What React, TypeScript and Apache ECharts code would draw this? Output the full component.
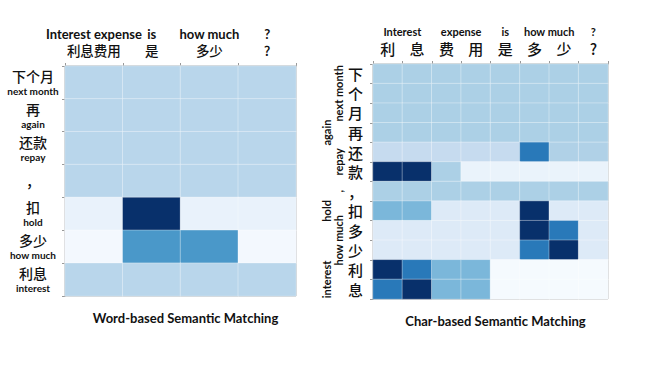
import React, { useEffect, useRef } from "react";
import * as echarts from "echarts";

// ---- Word-based chart data ----
const wordCols = ["利息费用", "是", "多少", "?"];
const wordColsEn = ["Interest expense", "is", "how much", "?"];
const wordRows = ["下个月", "再", "还款", "，", "扣", "多少", "利息"];
const wordRowsEn = ["next month", "again", "repay", "", "hold", "how much", "interest"];
const wordValues = [
  [0.29, 0.29, 0.29, 0.29],
  [0.29, 0.29, 0.29, 0.29],
  [0.29, 0.29, 0.29, 0.29],
  [0.29, 0.29, 0.29, 0.29],
  [0.07, 1.0, 0.07, 0.07],
  [0.02, 0.6, 0.6, 0.02],
  [0.29, 0.29, 0.29, 0.29],
];

// ---- Char-based chart data ----
const charCols = ["利", "息", "费", "用", "是", "多", "少", "?"];
const charColWords = ["Interest", "expense", "is", "how much", "?"];
const charColWordSpans = [[0, 2], [2, 4], [4, 5], [5, 7], [7, 8]];
const charRows = ["下", "个", "月", "再", "还", "款", "，", "扣", "多", "少", "利", "息"];
const charRowWordsInner = ["next month", "repay", ",", "how much"];
const charRowSpansInner = [[0, 3], [4, 6], [6, 7], [8, 10]];
const charRowWordsOuter = ["again", "hold", "interest"];
const charRowSpansOuter = [[3, 4], [7, 8], [10, 12]];
const charValues = [
  [0.33, 0.33, 0.33, 0.33, 0.33, 0.33, 0.33, 0.33],
  [0.33, 0.33, 0.33, 0.33, 0.33, 0.33, 0.33, 0.33],
  [0.33, 0.33, 0.33, 0.33, 0.33, 0.33, 0.33, 0.33],
  [0.33, 0.33, 0.33, 0.33, 0.33, 0.33, 0.33, 0.33],
  [0.25, 0.25, 0.25, 0.25, 0.25, 0.72, 0.32, 0.32],
  [1.0, 1.0, 0.33, 0.065, 0.065, 0.065, 0.065, 0.065],
  [0.33, 0.33, 0.33, 0.33, 0.33, 0.33, 0.33, 0.33],
  [0.46, 0.46, 0.13, 0.13, 0.13, 1.0, 0.13, 0.13],
  [0.13, 0.13, 0.13, 0.13, 0.13, 1.0, 0.72, 0.13],
  [0.13, 0.13, 0.13, 0.13, 0.13, 0.72, 1.0, 0.13],
  [1.0, 0.72, 0.46, 0.46, 0.01, 0.01, 0.01, 0.01],
  [0.72, 1.0, 0.46, 0.46, 0.01, 0.01, 0.01, 0.01],
];

const blues = ["#f7fbff", "#deebf7", "#c6dbef", "#9ecae1", "#6baed6", "#4292c6", "#2171b5", "#08519c", "#08306b"];

const EN_FONT = "Lato, 'Noto Sans', sans-serif";
const ZH_FONT = "'Noto Sans CJK SC', sans-serif";
const TEXT = "#111";

const toCells = (m: number[][]) => {
  const out: number[][] = [];
  m.forEach((row, y) => row.forEach((v, x) => out.push([x, y, v])));
  return out;
};
const centers = (spans: number[][]) => spans.map((s) => (s[0] + s[1]) / 2);
const labelAt = (words: string[], spans: number[][]) => (v: number) => {
  const c = centers(spans);
  const i = c.findIndex((x) => Math.abs(x - v) < 1e-6);
  return i >= 0 ? words[i] : "";
};

export default function App() {
  const ref = useRef<HTMLDivElement>(null);
  useEffect(() => {
    if (!ref.current) return;
    const chart = echarts.init(ref.current, undefined, { renderer: "svg" });
    const grayAxis = { show: true, lineStyle: { color: "#8c8c8c", width: 1 } };
    const tick = { show: true, length: 3, lineStyle: { color: "#999" } };
    const noLine = { show: false };
    const cellStyle = { borderColor: "rgba(255,255,255,0.35)", borderWidth: 1 };
    chart.setOption({
      animation: false,
      backgroundColor: "#fff",
      title: [
        {
          text: "Word-based Semantic Matching",
          left: 180.5,
          top: 306,
          textAlign: "center",
          textStyle: { fontFamily: EN_FONT, fontSize: 13, fontWeight: "bold", color: TEXT },
        },
        {
          text: "Char-based Semantic Matching",
          left: 490.5,
          top: 309,
          textAlign: "center",
          textStyle: { fontFamily: EN_FONT, fontSize: 13, fontWeight: "bold", color: TEXT },
        },
      ],
      grid: [
        { left: 65, top: 66, width: 231, height: 230, show: true, borderColor: "#999", borderWidth: 1, backgroundColor: "transparent" },
        { left: 373, top: 64, width: 235, height: 235, show: true, borderColor: "#999", borderWidth: 1, backgroundColor: "transparent" },
      ],
      visualMap: {
        show: false,
        min: 0,
        max: 1,
        seriesIndex: [0, 1],
        inRange: { color: blues },
      },
      xAxis: [
        {
          type: "category",
          gridIndex: 0,
          position: "top",
          data: wordCols,
          axisLine: grayAxis,
          axisTick: tick,
          splitLine: noLine,
          axisLabel: { interval: 0, margin: 9, fontFamily: ZH_FONT, fontSize: 13.5, fontWeight: 500, color: TEXT },
        },
        {
          type: "category",
          gridIndex: 0,
          position: "top",
          data: wordColsEn,
          axisLine: noLine,
          axisTick: noLine,
          splitLine: noLine,
          axisLabel: { interval: 0, margin: 26, fontFamily: EN_FONT, fontSize: 13, fontWeight: "bold", color: TEXT },
        },
        {
          type: "category",
          gridIndex: 1,
          position: "top",
          data: charCols,
          axisLine: grayAxis,
          axisTick: tick,
          splitLine: noLine,
          axisLabel: { interval: 0, margin: 8, fontFamily: ZH_FONT, fontSize: 15, fontWeight: 500, color: TEXT },
        },
        {
          type: "value",
          gridIndex: 1,
          position: "top",
          min: 0,
          max: charCols.length,
          axisLine: noLine,
          axisTick: noLine,
          splitLine: noLine,
          axisLabel: {
            margin: 27,
            customValues: centers(charColWordSpans),
            formatter: labelAt(charColWords, charColWordSpans),
            fontFamily: EN_FONT,
            fontSize: 11,
            fontWeight: "bold",
            color: TEXT,
          },
        },
      ],
      yAxis: [
        {
          type: "category",
          gridIndex: 0,
          inverse: true,
          data: wordRows,
          axisLine: grayAxis,
          axisTick: tick,
          splitLine: noLine,
          axisLabel: {
            interval: 0,
            margin: 32,
            align: "center",
            formatter: (v: string, i: number) =>
              wordRowsEn[i] ? `{zh|${v}}\n{en|${wordRowsEn[i]}}` : `{zh|${v}}`,
            rich: {
              zh: { fontFamily: ZH_FONT, fontSize: 14, fontWeight: 500, color: TEXT, lineHeight: 17, align: "center" },
              en: { fontFamily: EN_FONT, fontSize: 10, fontWeight: "bold", color: TEXT, lineHeight: 13, align: "center" },
            },
          },
        },
        {
          type: "category",
          gridIndex: 1,
          inverse: true,
          data: charRows,
          axisLine: grayAxis,
          axisTick: tick,
          splitLine: noLine,
          axisLabel: { interval: 0, margin: 10, fontFamily: ZH_FONT, fontSize: 15, fontWeight: 500, color: TEXT },
        },
        {
          type: "value",
          gridIndex: 1,
          inverse: true,
          position: "left",
          min: 0,
          max: charRows.length,
          axisLine: noLine,
          axisTick: noLine,
          splitLine: noLine,
          axisLabel: {
            margin: 29,
            rotate: 90,
            customValues: centers(charRowSpansInner),
            formatter: labelAt(charRowWordsInner, charRowSpansInner),
            fontFamily: EN_FONT,
            fontSize: 11,
            fontWeight: "bold",
            color: TEXT,
          },
        },
        {
          type: "value",
          gridIndex: 1,
          inverse: true,
          position: "left",
          min: 0,
          max: charRows.length,
          axisLine: noLine,
          axisTick: noLine,
          splitLine: noLine,
          axisLabel: {
            margin: 41,
            rotate: 90,
            customValues: centers(charRowSpansOuter),
            formatter: labelAt(charRowWordsOuter, charRowSpansOuter),
            fontFamily: EN_FONT,
            fontSize: 11,
            fontWeight: "bold",
            color: TEXT,
          },
        },
      ],
      series: [
        {
          type: "heatmap",
          xAxisIndex: 0,
          yAxisIndex: 0,
          data: toCells(wordValues),
          itemStyle: cellStyle,
          emphasis: { disabled: true },
        },
        {
          type: "heatmap",
          xAxisIndex: 2,
          yAxisIndex: 1,
          data: toCells(charValues),
          itemStyle: cellStyle,
          emphasis: { disabled: true },
        },
      ],
    });
    return () => chart.dispose();
  }, []);
  return (
    <div
      ref={ref}
      style={{ position: "fixed", left: 0, top: 0, width: 654, height: 368 }}
    />
  );
}
